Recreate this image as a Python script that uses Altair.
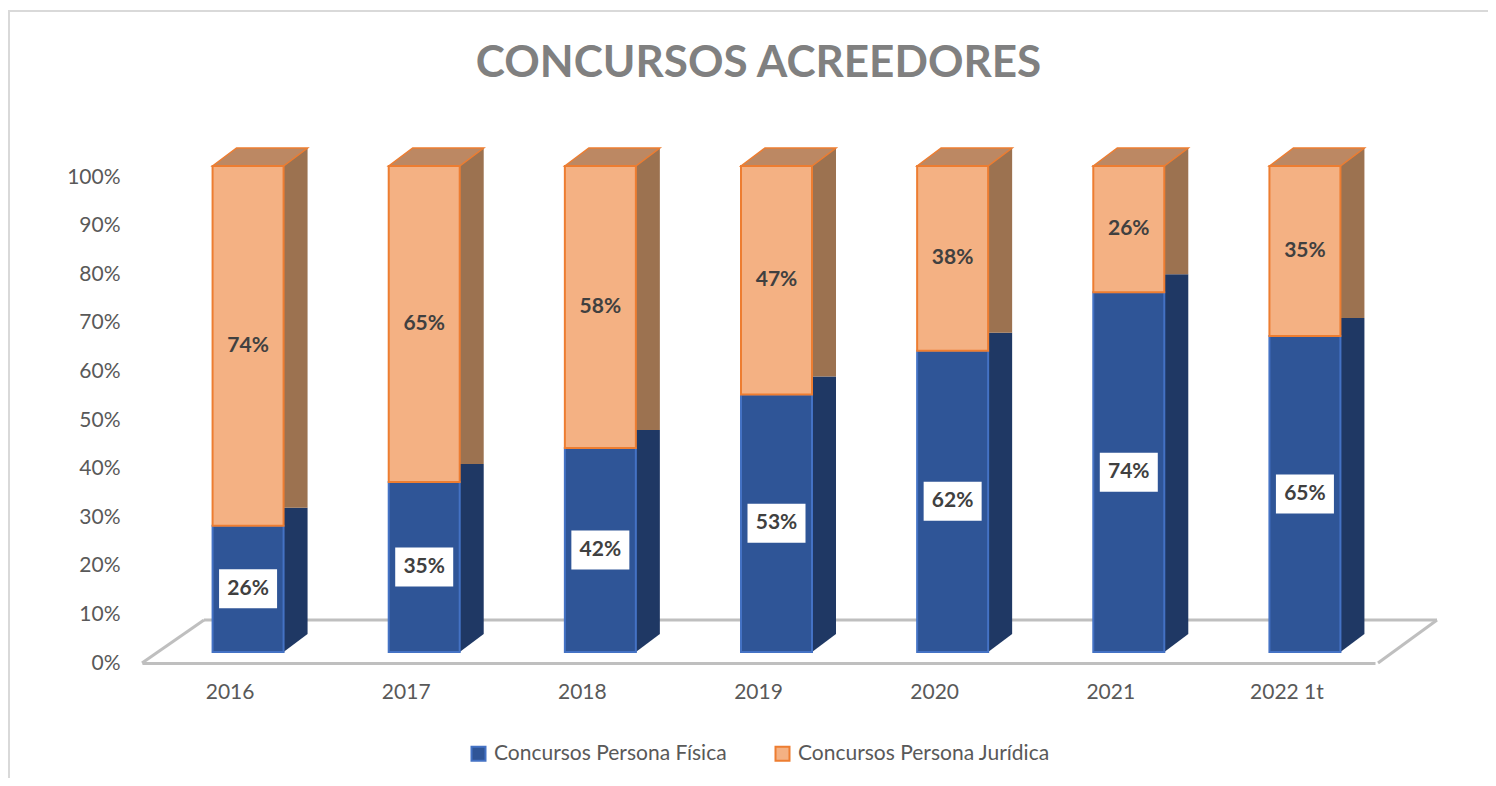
import altair as alt
import pandas as pd

years = ["2016", "2017", "2018", "2019", "2020", "2021", "2022 1t"]
fisica = [0.26, 0.35, 0.42, 0.53, 0.62, 0.74, 0.65]
juridica = [0.74, 0.65, 0.58, 0.47, 0.38, 0.26, 0.35]
series_names = ["Concursos Persona Física", "Concursos Persona Jurídica"]
y_ticks = [0.0, 0.1, 0.2, 0.3, 0.4, 0.5, 0.6, 0.7, 0.8, 0.9, 1.0]

rows = []
for yr, f, j in zip(years, fisica, juridica):
    rows.append(dict(year=yr, serie=series_names[0], value=f, y0=0.0, y1=f, mid=f / 2))
    rows.append(dict(year=yr, serie=series_names[1], value=j, y0=f, y1=f + j, mid=f + j / 2))
df = pd.DataFrame(rows)

W, H = 1233, 486
BAR = 71
DX, DY = 18, -11      # front face offset (perspective)
SX, SY = 24, -18      # depth of bars
FLOOR_DX, FLOOR_DY = 62, 0.0885  # floor depth

FONT = "Lato"
BLUE, BLUE_EDGE, NAVY = "#2F5597", "#4472C4", "#1F3864"
ORANGE, ORANGE_EDGE, BROWN, BROWN_TOP = "#F4B183", "#ED7D31", "#9C7250", "#BC8863"

xenc = alt.X(
    "year:N", sort=years, title=None,
    scale=alt.Scale(paddingInner=0, paddingOuter=0),
    axis=alt.Axis(labelAngle=0, labelFontSize=21, labelColor="#595959", labelFont=FONT,
                  ticks=False, domainColor="#BFBFBF", domainWidth=3, labelPadding=18),
)
yscale = alt.Scale(domain=[0, 1])
yaxis = alt.Axis(values=y_ticks, format=".0%", labelFontSize=21, labelColor="#595959",
                 labelFont=FONT, ticks=False, domain=False, grid=False, labelPadding=22)

def Yf(field):
    return alt.Y(field, scale=yscale, axis=yaxis, title=None)

base = alt.Chart(df)
one = pd.DataFrame({"k": [0]})

frame = alt.Chart(one).mark_rect(fill=None, stroke="#D9D9D9", strokeWidth=2).encode(
    x=alt.value(-133), x2=alt.value(W + 300), y=alt.value(-166), y2=alt.value(H + 300),
)

floor_back = alt.Chart(one).mark_rule(color="#BFBFBF", strokeWidth=3).encode(
    x=alt.value(FLOOR_DX), x2=alt.value(W + FLOOR_DX),
    y=alt.Y(datum=FLOOR_DY, scale=yscale, axis=yaxis, title=None),
)
floor_left = alt.Chart(one).mark_rule(color="#BFBFBF", strokeWidth=3).encode(
    x=alt.value(0), x2=alt.value(FLOOR_DX),
    y=alt.Y(datum=0, scale=yscale, axis=yaxis, title=None), y2=alt.datum(FLOOR_DY),
)
floor_right = alt.Chart(one).mark_rule(color="#BFBFBF", strokeWidth=3).encode(
    x=alt.value(W + 3), x2=alt.value(W + FLOOR_DX),
    y=alt.Y(datum=0, scale=yscale, axis=yaxis, title=None), y2=alt.datum(FLOOR_DY),
)

# side faces (drawn behind the front faces)
side = base.mark_bar(size=BAR, xOffset=DX + SX, yOffset=DY + SY, y2Offset=DY + SY).encode(
    x=xenc, y=Yf("y0:Q"), y2="y1:Q",
    fill=alt.condition(alt.datum.serie == series_names[0], alt.value(NAVY), alt.value(BROWN)),
)
# bottom triangle of the side face
side_foot = base.transform_filter(alt.datum.serie == series_names[0]).mark_point(
    shape="M-1,-0.75L1,-0.75L-1,0.75Z", size=SX * SX, filled=True, color=NAVY, opacity=1,
    xOffset=DX + BAR / 2 + SX / 2, yOffset=DY + SY / 2,
).encode(x=xenc, y=Yf("y0:Q"))

# top face (parallelogram)
TW = BAR + SX
hy = abs(SY) / TW
a = 2 * BAR / TW - 1
top_path = f"M-1,{hy:.4f}L{a:.4f},{hy:.4f}L1,{-hy:.4f}L{-a:.4f},{-hy:.4f}Z"
top = base.transform_filter(alt.datum.serie == series_names[1]).mark_point(
    shape=top_path, size=TW * TW, filled=True, fill=BROWN_TOP, stroke=ORANGE_EDGE,
    strokeWidth=1.5, opacity=1, xOffset=DX + SX / 2, yOffset=DY + SY / 2,
).encode(x=xenc, y=Yf("y1:Q"))

legend = alt.Legend(title=None, orient="none", legendX=326, legendY=566, direction="horizontal",
                    symbolType="square", symbolSize=196, symbolStrokeWidth=2,
                    labelFontSize=21, labelColor="#595959", labelFont=FONT, labelLimit=0,
                    columnPadding=44, labelOffset=5)

front = base.mark_bar(size=BAR, xOffset=DX, yOffset=DY, y2Offset=DY, strokeWidth=2).encode(
    x=xenc, y=Yf("y0:Q"), y2="y1:Q",
    fill=alt.Fill("serie:N", scale=alt.Scale(domain=series_names, range=[BLUE, ORANGE]), legend=legend),
    stroke=alt.Stroke("serie:N", scale=alt.Scale(domain=series_names, range=[BLUE_EDGE, ORANGE_EDGE]), legend=legend),
)

box = base.transform_filter(alt.datum.serie == series_names[0]).mark_point(
    shape="M-1,-0.672L1,-0.672L1,0.672L-1,0.672Z", size=58 * 58, filled=True,
    color="white", opacity=1, xOffset=DX, yOffset=DY,
).encode(x=xenc, y=Yf("mid:Q"))

labels = base.mark_text(font=FONT, fontSize=21, fontWeight="bold", color="#404040",
                        xOffset=DX, yOffset=DY, baseline="middle").encode(
    x=xenc, y=Yf("mid:Q"),
    text=alt.Text("value:Q", format=".0%"),
)

chart = alt.layer(frame, floor_back, floor_left, floor_right, side, side_foot, top, front, box, labels).properties(
    width=W, height=H,
    title=alt.TitleParams("CONCURSOS ACREEDORES", font=FONT, fontSize=44, fontWeight="bold",
                          color="#808080", anchor="middle", frame="group",
                          baseline="alphabetic", offset=-111),
    autosize=alt.AutoSizeParams(type="none"),
    padding={"left": 134, "top": 169, "right": 113, "bottom": 115},
).configure_view(stroke=None)

chart.save("out.html", embed_options={"renderer": "svg", "actions": False})
